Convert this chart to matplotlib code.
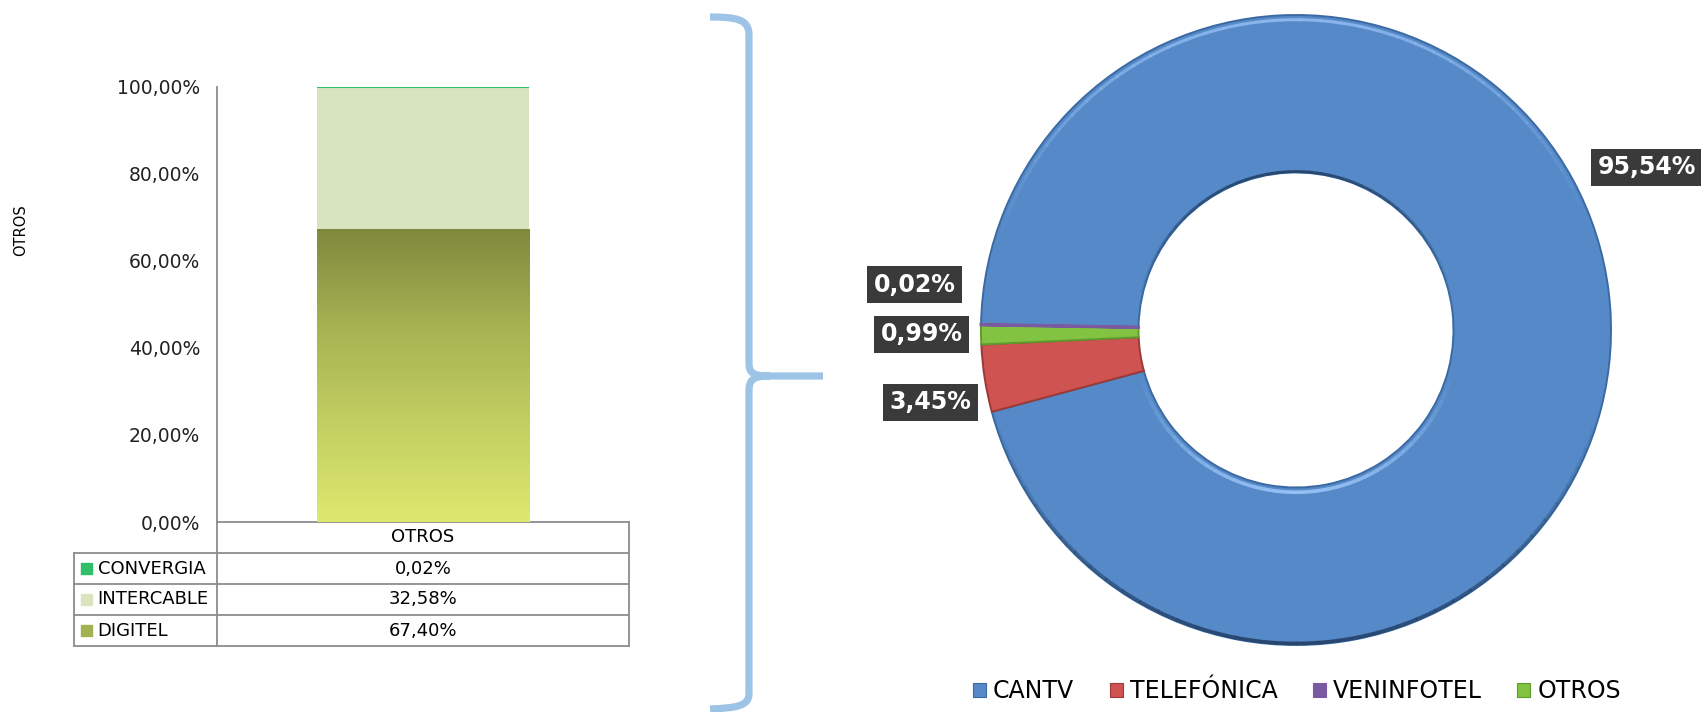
import matplotlib
matplotlib.use("Agg")
import matplotlib.pyplot as plt
import numpy as np
from matplotlib.colors import LinearSegmentedColormap
from matplotlib.patches import Patch, PathPatch, Rectangle, Arc
from matplotlib.path import Path
from matplotlib.ticker import FuncFormatter

plt.rcParams["font.family"] = ["DejaVu Sans"]

# left: stacked 100% bar for the "OTROS" group (bottom -> top)
bar_category = "OTROS"
bar_series = ["DIGITEL", "INTERCABLE", "CONVERGIA"]
bar_values = [67.40, 32.58, 0.02]
bar_colors = ["#a3b150", "#d7e4bd", "#2fbf68"]
y_ticks = [0, 20, 40, 60, 80, 100]

# right: market share donut
companies = ["CANTV", "TELEFÓNICA", "VENINFOTEL", "OTROS"]
shares = [95.54, 3.45, 0.02, 0.99]
donut_colors = ["#5589c8", "#cf5350", "#7a5aa0", "#82c341"]
donut_edges = ["#3b6aa3", "#9c3a37", "#7a5aa0", "#5f9a2c"]
draw_order = [0, 1, 3, 2]          # clockwise wedge order as drawn in the picture
label_pos = [(1.114, 0.517), (-1.160, -0.229), (-1.211, 0.144), (-1.189, -0.014)]

W, H = 1701, 712
fig = plt.figure(figsize=(W / 100, H / 100), dpi=100)

def pct(v):
    return f"{v:.2f}".replace(".", ",") + "%"

# ---------------- left chart ----------------
ax = fig.add_axes([217 / W, 1 - 522 / H, 412 / W, 435 / H])
bw = 0.515
bottoms = np.concatenate([[0], np.cumsum(bar_values)[:-1]])
bars = []
for name, v, b, c in zip(bar_series, bar_values, bottoms, bar_colors):
    lw = 1.5 if v < 0.5 else 0
    r = ax.bar(0, v, bw, bottom=b, color=c, edgecolor=c, linewidth=lw, zorder=2)
    bars.append(r[0])

# gradient fill on DIGITEL
grad = LinearSegmentedColormap.from_list("dig", ["#dde96e", "#c3cf61", "#a5b352", "#7e893d"])
im = ax.imshow(np.linspace(0, 1, 256).reshape(-1, 1), cmap=grad, origin="lower",
               extent=(-bw / 2, bw / 2, 0, bar_values[0]), aspect="auto", zorder=3)
im.set_clip_path(bars[0])
ax.set_xlim(-0.5, 0.5)
ax.set_ylim(0, 100)

ax.set_yticks(y_ticks)
ax.yaxis.set_major_formatter(FuncFormatter(lambda v, p: pct(v)))
ax.tick_params(axis="y", length=0, pad=12, labelsize=13.5, labelcolor="#222222")
ax.set_xticks([])
for s in ["top", "right", "bottom"]:
    ax.spines[s].set_visible(False)
gray = "#8c8c8c"
ax.spines["left"].set_color(gray)
ax.spines["left"].set_linewidth(1.3)
ax.set_ylabel("OTROS", fontsize=10.5, labelpad=0)
ax.yaxis.set_label_coords(-0.458, 0.672)

# data table under the plot
h = 31 / 435
xl = -0.347
kw = dict(transform=ax.transAxes, color=gray, lw=1.3, clip_on=False)
ax.plot([0, 1], [0, 0], **kw)
ax.plot([0, 0], [0, -4 * h], **kw)
ax.plot([1, 1], [0, -4 * h], **kw)
ax.plot([xl, xl], [-h, -4 * h], **kw)
for k in range(1, 5):
    ax.plot([xl, 1], [-k * h, -k * h], **kw)
ax.text(0.5, -h / 2, bar_category, transform=ax.transAxes, ha="center", va="center", fontsize=13)
rows = list(zip(bar_series, bar_values, bar_colors))[::-1]
for i, (name, v, c) in enumerate(rows):
    yc = -(i + 1.5) * h
    ax.add_patch(Rectangle((-0.330, yc - 0.012), 0.027, 0.024, transform=ax.transAxes,
                           color=c, clip_on=False))
    ax.text(-0.290, yc, name, transform=ax.transAxes, ha="left", va="center", fontsize=13)
    ax.text(0.5, yc, pct(v), transform=ax.transAxes, ha="center", va="center", fontsize=13)

# ---------------- brace ----------------
ov = fig.add_axes([0, 0, 1, 1])
ov.set_xlim(0, W)
ov.set_ylim(H, 0)
ov.axis("off")
C = Path.CURVE4
verts = [(710, 17), (736, 17), (749, 19), (749, 35), (749, 362),
         (749, 372), (751, 376), (770, 376), (823, 376),
         (770, 376), (751, 376), (749, 381), (749, 392), (749, 694),
         (749, 706), (736, 708), (710, 709)]
codes = [Path.MOVETO, C, C, C, Path.LINETO, C, C, C, Path.LINETO,
         Path.MOVETO, C, C, C, Path.LINETO, C, C, C]
ov.add_patch(PathPatch(Path(verts, codes), fill=False, edgecolor="#9dc3e6", lw=5.2,
                       capstyle="butt", joinstyle="round"))

# ---------------- donut ----------------
cx, cy, R = 1296, 330, 315
S = 340
dx = fig.add_axes([(cx - S) / W, (H - cy - S) / H, 2 * S / W, 2 * S / H])
lim = S / R
wedges, _ = dx.pie([shares[i] for i in draw_order], colors=[donut_colors[i] for i in draw_order],
                   startangle=179, counterclock=False, radius=1,
                   wedgeprops=dict(width=0.5), frame=False)
dx.set_xlim(-lim, lim)
dx.set_ylim(-lim, lim)
dx.set_aspect("equal")
dx.axis("off")
for w, i in zip(wedges, draw_order):
    w.set_edgecolor(donut_edges[i])
    w.set_linewidth(2.2 if shares[i] < 0.1 else 1.4)

# soft bevel: faded arcs (highlight / shadow)
def soft_arc(r, t1, t2, color, lw, n=40):
    ts = np.linspace(t1, t2, n + 1)
    for k in range(n):
        a = np.sin(np.pi * (k + 0.5) / n) ** 1.2
        dx.add_patch(Arc((0, 0), 2 * r, 2 * r, theta1=ts[k], theta2=ts[k + 1] + 0.3,
                         color=color, lw=lw, alpha=a, zorder=3))

soft_arc(0.985, 20, 165, "#8ab6ec", 2.2)
soft_arc(0.995, 195, 345, "#27476f", 2.6)
soft_arc(0.515, 195, 345, "#93bff2", 2.6)
soft_arc(0.503, 15, 170, "#27476f", 2.0)

for v, (lx, ly) in zip(shares, label_pos):
    dx.text(lx, ly, pct(v), ha="center", va="center", fontsize=17, fontweight="bold",
            color="white", clip_on=False, zorder=5,
            bbox=dict(boxstyle="square,pad=0.28", facecolor="#3a3a3a", edgecolor="none"))

handles = [Patch(facecolor=c, edgecolor=e, lw=0.8) for c, e in zip(donut_colors, donut_edges)]
fig.legend(handles, companies, loc="center", bbox_to_anchor=(1297 / W, 1 - 691 / H), ncol=4,
           frameon=False, fontsize=17, handlelength=0.55, handleheight=0.55,
           handletextpad=0.3, columnspacing=1.5, borderpad=0)

fig.savefig("out.png", dpi=100, facecolor="white")
